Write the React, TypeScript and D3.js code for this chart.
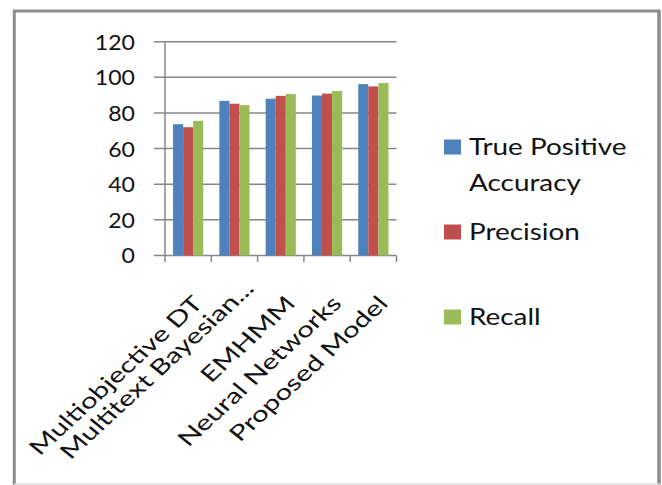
import * as d3 from 'd3';

// values
const categories = ['Multiobjective DT', 'Multitext Bayesian...', 'EMHMM', 'Neural Networks', 'Proposed Model'];
const seriesNames = ['True Positive Accuracy', 'Precision', 'Recall'];
const legendLines = [['True Positive', 'Accuracy'], ['Precision'], ['Recall']];
const truePositive = [73.7, 86.8, 88, 89.8, 96.2];
const precision = [72, 85.2, 89.6, 90.9, 94.9];
const recall = [75.6, 84.4, 90.6, 92.3, 96.8];
const yTicks = [0, 20, 40, 60, 80, 100, 120];
const colors = ['#4F81BD', '#C0504D', '#9BBB59'];

const W = 662;
const H = 485;
const FONT = 'Lato, "Open Sans", sans-serif';
const KX = 1.16; // the picture is stretched sideways a bit

export default function App() {
  const series = [truePositive, precision, recall];

  const x0 = d3.scaleBand<string>().domain(categories).range([165, 396.5]).padding(0);
  const x1 = d3.scaleBand<string>().domain(seriesNames).range([0, x0.bandwidth()]).paddingInner(0).paddingOuter(0.8);
  const y = d3.scaleLinear().domain([0, 120]).range([255.5, 41.7]);

  const bounds = [...categories.map(c => x0(c)!), x0.range()[1]];

  return (
    <svg width={W} height={H} style={{ position: 'absolute', left: 0, top: 0, background: '#fff' }}>
      {/* frame */}
      <line x1={14.3} y1={10} x2={14.3} y2={H} stroke="#8c8c8c" strokeWidth={3} />
      <line x1={13} y1={11} x2={660} y2={11} stroke="#8c8c8c" strokeWidth={3} />
      <line x1={659} y1={10} x2={659} y2={H} stroke="#8c8c8c" strokeWidth={3.5} />
      <line x1={14} y1={484} x2={660} y2={484} stroke="#dcdcdc" strokeWidth={1.5} />

      {/* gridlines + y ticks */}
      {yTicks.map(t => (
        <g key={t}>
          <line x1={154} x2={396.5} y1={y(t)} y2={y(t)} stroke="#868686" strokeWidth={1.5} />
          <text
            transform={`translate(135,${y(t)}) scale(1.05,1)`}
            dy="0.36em"
            textAnchor="end"
            fontFamily={FONT}
            fontSize={22}
            fill="#111"
          >
            {t}
          </text>
        </g>
      ))}
      <line x1={165} x2={165} y1={y(120)} y2={262} stroke="#868686" strokeWidth={1.5} />
      {bounds.slice(1).map((b, i) => (
        <line key={i} x1={b} x2={b} y1={y(0)} y2={262} stroke="#868686" strokeWidth={1.5} />
      ))}

      {/* bars */}
      {categories.map((c, ci) => (
        <g key={c} transform={`translate(${x0(c)},0)`}>
          {seriesNames.map((s, si) => (
            <rect
              key={s}
              x={x1(s)}
              y={y(series[si][ci])}
              width={x1.bandwidth()}
              height={y(0) - y(series[si][ci])}
              fill={colors[si]}
            />
          ))}
        </g>
      ))}

      {/* category labels, rotated */}
      {categories.map(c => {
        const cx = x0(c)! + x0.bandwidth() / 2;
        // the truncated label sits a little higher in the original
        const trunc = c.endsWith('...');
        const ex = cx + (trunc ? 21 : 16);
        const ey = y(0) + (trunc ? 34 : 49);
        return (
          <text
            key={c}
            transform={`translate(${ex},${ey}) scale(${KX},1) rotate(-47) scale(1.25,1)`}
            textAnchor="end"
            fontFamily={FONT}
            fontSize={21}
            fill="#111"
          >
            {c}
          </text>
        );
      })}

      {/* legend */}
      {seriesNames.map((s, i) => {
        const top = 139.5 + i * 85;
        return (
          <g key={s}>
            <rect x={444} y={top} width={17} height={15} fill={colors[i]} />
            {legendLines[i].map((line, li) => (
              <text
                key={li}
                transform={`translate(469,${top + 15 + li * 36}) scale(1.24,1)`}
                fontFamily={FONT}
                fontSize={22.5}
                fill="#111"
              >
                {line}
              </text>
            ))}
          </g>
        );
      })}
    </svg>
  );
}
